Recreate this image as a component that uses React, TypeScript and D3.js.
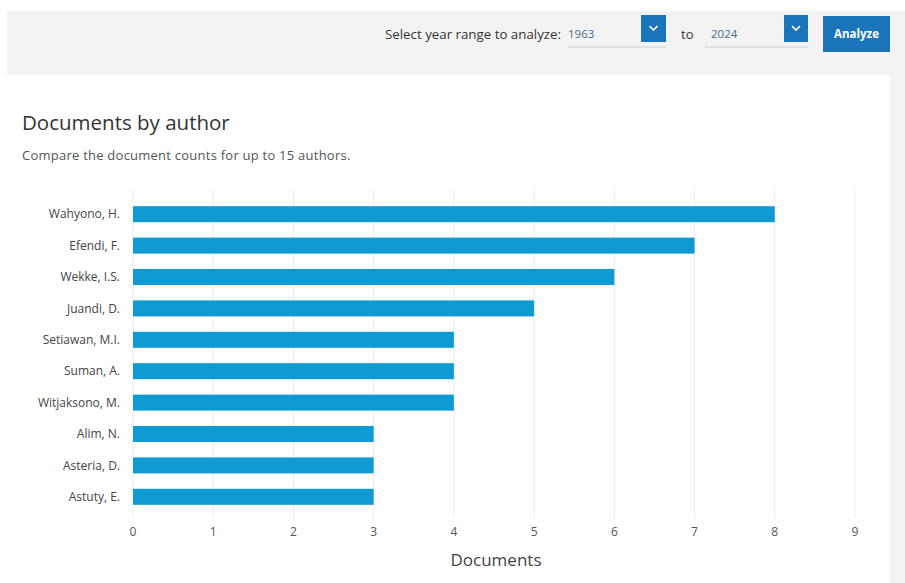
import React from "react";
import * as d3 from "d3";

const authors = [
  "Wahyono, H.",
  "Efendi, F.",
  "Wekke, I.S.",
  "Juandi, D.",
  "Setiawan, M.I.",
  "Suman, A.",
  "Witjaksono, M.",
  "Alim, N.",
  "Asteria, D.",
  "Astuty, E.",
];
const documents = [8, 7, 6, 5, 4, 4, 4, 3, 3, 3];
const xTicks = [0, 1, 2, 3, 4, 5, 6, 7, 8, 9];

const W = 905;
const H = 583;
const FONT = "'Open Sans', 'Noto Sans', sans-serif";

export default function App() {
  const x = d3.scaleLinear().domain([0, 9]).range([133, 855]);
  const y = d3
    .scaleBand<string>()
    .domain(authors)
    .range([198.5, 512.5])
    .paddingInner(0.49)
    .paddingOuter(0.245);

  const chevron = (cx: number, cy: number) =>
    `M${cx - 4},${cy - 2} L${cx},${cy + 2} L${cx + 4},${cy - 2}`;

  return (
    <svg
      width={W}
      height={H}
      style={{ position: "absolute", left: 0, top: 0, background: "#fff" }}
      fontFamily={FONT}
    >
      {/* top control bar */}
      <rect x={7} y={11} width={W - 7} height={64} fill="#f3f3f3" />
      {/* right grey strip */}
      <rect x={890} y={75} width={15} height={H - 75} fill="#f3f3f3" />

      <text x={385} y={39} fontSize={13.3} fill="#333">
        Select year range to analyze:
      </text>
      <text x={568} y={38} fontSize={11.5} fill="#4a6d8c">
        1963
      </text>
      <line x1={568} x2={666} y1={47} y2={47} stroke="#cfcfcf" />
      <rect x={641} y={15} width={25} height={27} fill="#1b75bb" />
      <path d={chevron(653.5, 28)} stroke="#fff" strokeWidth={1.6} fill="none" />

      <text x={681} y={39} fontSize={13} fill="#333">
        to
      </text>
      <text x={711} y={38} fontSize={11.5} fill="#4a6d8c">
        2024
      </text>
      <line x1={705} x2={808} y1={47} y2={47} stroke="#cfcfcf" />
      <rect x={784} y={15} width={24} height={27} fill="#1b75bb" />
      <path d={chevron(796, 28)} stroke="#fff" strokeWidth={1.6} fill="none" />

      <rect x={823} y={16} width={67} height={36} fill="#1b75bb" />
      <text
        x={856.5}
        y={38}
        fontSize={11.5}
        fontWeight={700}
        fill="#fff"
        textAnchor="middle"
      >
        Analyze
      </text>

      {/* titles */}
      <text x={22} y={130} fontSize={20.5} fill="#333">
        Documents by author
      </text>
      <text x={22} y={160} fontSize={13} letterSpacing={0.24} fill="#555">
        Compare the document counts for up to 15 authors.
      </text>

      {/* gridlines */}
      {xTicks.map((t) => (
        <line
          key={"g" + t}
          x1={x(t)}
          x2={x(t)}
          y1={190}
          y2={518}
          stroke="#ebebeb"
          strokeWidth={1}
        />
      ))}

      {/* bars */}
      {authors.map((a, i) => (
        <rect
          key={a}
          x={x(0)}
          y={y(a)}
          width={x(documents[i]) - x(0)}
          height={y.bandwidth()}
          fill="#0f9bd2"
        />
      ))}

      {/* author labels */}
      {authors.map((a) => (
        <text
          key={"l" + a}
          x={120}
          y={(y(a) ?? 0) + y.bandwidth() / 2}
          dy="0.35em"
          fontSize={12}
          fill="#444"
          textAnchor="end"
        >
          {a}
        </text>
      ))}

      {/* x tick labels */}
      {xTicks.map((t) => (
        <text
          key={"t" + t}
          x={x(t)}
          y={532}
          dy="0.35em"
          fontSize={12}
          fill="#555"
          textAnchor="middle"
        >
          {t}
        </text>
      ))}

      <text x={496} y={560} dy="0.35em" fontSize={17} fill="#444" textAnchor="middle">
        Documents
      </text>
    </svg>
  );
}
